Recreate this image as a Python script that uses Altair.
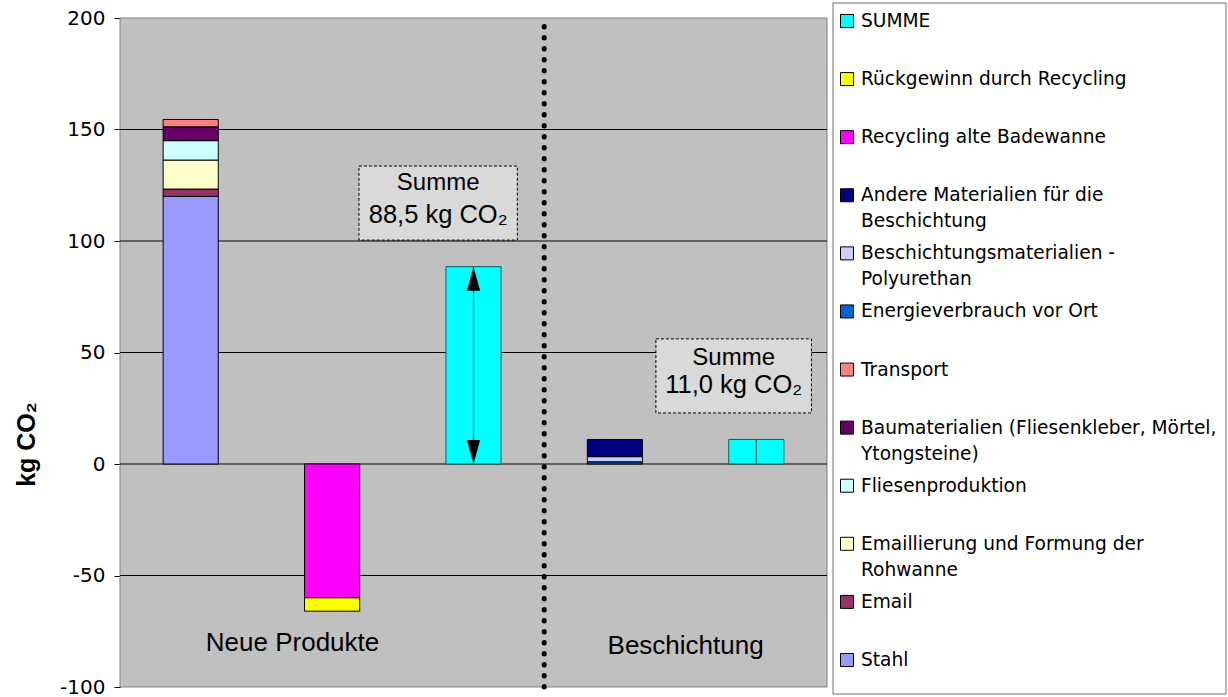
import altair as alt
import pandas as pd

# ---- data -------------------------------------------------------------
# five bar slots along the horizontal axis (slot i is centred at i + 0.5)
slot_names = ["Neue Produkte", "Recycling", "Summe neu", "Beschichtung", "Summe Beschichtung"]

# series (legend order, top to bottom) and their fills
series_names = [
    "SUMME",
    "Rückgewinn durch Recycling",
    "Recycling alte Badewanne",
    "Andere Materialien für die Beschichtung",
    "Beschichtungsmaterialien - Polyurethan",
    "Energieverbrauch vor Ort",
    "Transport",
    "Baumaterialien (Fliesenkleber, Mörtel, Ytongsteine)",
    "Fliesenproduktion",
    "Emaillierung und Formung der Rohwanne",
    "Email",
    "Stahl",
]
series_colors = [
    "#00ffff", "#ffff00", "#ff00ff", "#000080", "#ccccff", "#0066cc",
    "#ff8080", "#660066", "#ccffff", "#ffffcc", "#993366", "#9999ff",
]
legend_labels = [
    "SUMME",
    "Rückgewinn durch Recycling",
    "Recycling alte Badewanne",
    "Andere Materialien für die\nBeschichtung",
    "Beschichtungsmaterialien -\nPolyurethan",
    "Energieverbrauch vor Ort",
    "Transport",
    "Baumaterialien (Fliesenkleber, Mörtel,\nYtongsteine)",
    "Fliesenproduktion",
    "Emaillierung und Formung der\nRohwanne",
    "Email",
    "Stahl",
]

# new bathtub, stacked bottom to top (kg CO2)
neu_parts = ["Stahl", "Email", "Emaillierung und Formung der Rohwanne",
             "Fliesenproduktion",
             "Baumaterialien (Fliesenkleber, Mörtel, Ytongsteine)", "Transport"]
neu_values = [120.0, 3.3, 13.0, 8.7, 6.2, 3.3]

# recycling of the old tub (credits)
rec_parts = ["Recycling alte Badewanne", "Rückgewinn durch Recycling"]
rec_values = [-60.0, -6.0]

# coating of the existing tub
bes_parts = ["Energieverbrauch vor Ort", "Beschichtungsmaterialien - Polyurethan",
             "Andere Materialien für die Beschichtung"]
bes_values = [1.0, 2.3, 7.7]

# totals
summe_slots = [2, 4]
summe_values = [88.5, 11.0]

y_ticks = [-100, -50, 0, 50, 100, 150, 200]
grid_values = [-50, 0, 50, 100, 150]

# ---- layout helpers ---------------------------------------------------
HALF_BAR = 0.195
PLOT_H = 669
Y_MIN, Y_MAX = -100, 200
X_SCALE = alt.Scale(domain=[0, 5], range=[0, 707])
Y_SCALE = alt.Scale(domain=[Y_MIN, Y_MAX], nice=False, zero=False)
TXT_FONT = "Liberation Sans"
LEG_FONT = "DejaVu Sans"

# one axis definition shared by every layer so that they merge into a single axis
Y_AXIS = alt.Axis(values=y_ticks, grid=False, title="kg CO₂",
                  labelExpr="datum.value + ''",
                  labelFont=LEG_FONT, labelFontSize=20, labelColor="#000000",
                  labelPadding=9, tickSize=6, tickColor="#000000",
                  domainColor="#000000", titleFont=TXT_FONT,
                  titleFontSize=25, titleFontWeight="bold", titleColor="#000000",
                  titleAngle=270, titleX=-94, titleY=426,
                  titleAlign="center", titleBaseline="middle")


def stack_rows(slot, parts, values, edge="#000000"):
    rows, pos, neg = [], 0.0, 0.0
    for name, v in zip(parts, values):
        if v >= 0:
            lo, hi = pos, pos + v
            pos = hi
        else:
            lo, hi = neg, neg + v
            neg = hi
        rows.append(dict(series=name, x0=slot + 0.5 - HALF_BAR, x1=slot + 0.5 + HALF_BAR,
                         y0=lo, y1=hi, edge=edge))
    return rows


bar_rows = []
bar_rows += stack_rows(0, neu_parts, neu_values)
bar_rows += stack_rows(1, rec_parts, rec_values)
bar_rows += stack_rows(3, bes_parts, bes_values)
for s, v in zip(summe_slots, summe_values):
    bar_rows += stack_rows(s, ["SUMME"], [v], edge="#0d5c5c")
bars_df = pd.DataFrame(bar_rows)

color_scale = alt.Scale(domain=series_names, range=series_colors)

x_enc = alt.X("x0:Q", scale=X_SCALE, axis=None)
y_enc = alt.Y("y0:Q", scale=Y_SCALE, axis=Y_AXIS)

# ---- plot area ----------------------------------------------------------
frame = alt.Chart(pd.DataFrame([{"x0": 0, "x1": 5, "y0": Y_MIN, "y1": Y_MAX}])).mark_rect(
    fill="#c0c0c0", stroke="#808080", strokeWidth=1
).encode(x=x_enc, x2="x1:Q", y=y_enc, y2="y1:Q")

grid = alt.Chart(pd.DataFrame({"y0": grid_values, "x0": 0, "x1": 5})).mark_rule(
    color="#000000", strokeWidth=1
).encode(x=x_enc, x2="x1:Q", y=y_enc)

bars = alt.Chart(bars_df).mark_rect(strokeWidth=1).encode(
    x=x_enc, x2="x1:Q", y=y_enc, y2="y1:Q",
    color=alt.Color("series:N", scale=color_scale, legend=None),
    stroke=alt.Stroke("edge:N", scale=None),
)

# double-headed arrow / centre line inside the total bars
arrow_df = pd.DataFrame({"x0": [s + 0.5 for s in summe_slots], "y0": 0.0, "y1": summe_values})
arrow_line = alt.Chart(arrow_df).mark_rule(color="#0d5c5c", strokeWidth=1.2).encode(
    x=x_enc, y=y_enc, y2="y1:Q"
)
heads_df = pd.DataFrame({
    "x0": [summe_slots[0] + 0.5] * 2,
    "y0": [summe_values[0], 0.0],
    "shape": ["M0,0L0.55,2L-0.55,2Z", "M0,0L0.55,-2L-0.55,-2Z"],
})
arrow_heads = alt.Chart(heads_df).mark_point(filled=True, color="#000000", size=576, opacity=1).encode(
    x=x_enc, y=y_enc, shape=alt.Shape("shape:N", scale=None)
)

# dotted separator between the two variants
divider = alt.Chart(pd.DataFrame({"x0": [3.0], "y0": [Y_MIN], "y1": [Y_MAX]})).mark_rule(
    color="#000000", strokeWidth=5, strokeDash=[0.5, 10.5], strokeCap="round"
).encode(x=x_enc, y=y_enc, y2="y1:Q")

# group captions
captions_df = pd.DataFrame({"text": ["Neue Produkte", "Beschichtung"],
                            "x0": [1.22, 4.0], "y0": [-84.0, -85.0]})
captions = alt.Chart(captions_df).mark_text(
    font=TXT_FONT, fontSize=26, color="#000000", align="center", baseline="alphabetic"
).encode(x=x_enc, y=y_enc, text="text:N")


# "Summe" call-out boxes
def de_num(v):
    return f"{v:.1f}".replace(".", ",")


boxes_df = pd.DataFrame({"x0": [1.69, 3.79], "x1": [2.81, 4.89],
                         "y0": [100.4, 22.9], "y1": [133.6, 56.1]})
boxes = alt.Chart(boxes_df).mark_rect(
    fill="#d9d9d9", stroke="#000000", strokeWidth=1, strokeDash=[3, 2]
).encode(x=x_enc, x2="x1:Q", y=y_enc, y2="y1:Q")

box_text_df = pd.DataFrame({
    "text": ["Summe", f"{de_num(summe_values[0])} kg CO₂",
             "Summe", f"{de_num(summe_values[1])} kg CO₂"],
    "x0": [2.25, 2.25, 4.34, 4.34],
    "y0": [122.9, 108.1, 44.4, 31.8],
    "fs": [24, 25.5, 24, 25.5],
})
box_text = alt.Chart(box_text_df).mark_text(
    font=TXT_FONT, color="#000000", align="center", baseline="alphabetic"
).encode(x=x_enc, y=y_enc, text="text:N", size=alt.Size("fs:Q", scale=None))

# ---- legend panel (to the right of the plot) ------------------------------
# entries are spaced evenly; their vertical slot is converted to the value axis
PX_PER_UNIT = PLOT_H / (Y_MAX - Y_MIN)
ENTRY_TOP, ENTRY_STEP = 3.0, 58.09
leg_df = pd.DataFrame({"series": series_names, "label": legend_labels})
leg_df["y0"] = [Y_MAX - (ENTRY_TOP + ENTRY_STEP * i) / PX_PER_UNIT for i in range(len(leg_df))]

leg_box = alt.Chart(pd.DataFrame({"k": [0]})).mark_rect(
    fill="#ffffff", stroke="#6e6e6e", strokeWidth=1
).encode(x=alt.value(713), x2=alt.value(1106), y=alt.value(-15), y2=alt.value(676))

leg_swatch = alt.Chart(leg_df).mark_square(size=169, stroke="#000000", strokeWidth=1, opacity=1).encode(
    x=alt.value(727), y=y_enc,
    color=alt.Color("series:N", scale=color_scale, legend=None),
)
leg_text = alt.Chart(leg_df).mark_text(
    font=LEG_FONT, fontSize=18.6, color="#000000", align="left", baseline="top",
    dy=-9, lineBreak="\n", lineHeight=26
).encode(x=alt.value(741), y=y_enc, text="label:N")

chart = alt.layer(
    frame, grid, bars, arrow_line, arrow_heads, divider, captions, boxes, box_text,
    leg_box, leg_swatch, leg_text,
).properties(
    width=1108, height=PLOT_H,
    autosize=alt.AutoSizeParams(type="none"),
    padding={"left": 120, "top": 18, "right": 0, "bottom": 10},
    background="#ffffff",
).configure_view(stroke=None)

chart.save("out.html", embed_options={"renderer": "svg", "actions": False})
